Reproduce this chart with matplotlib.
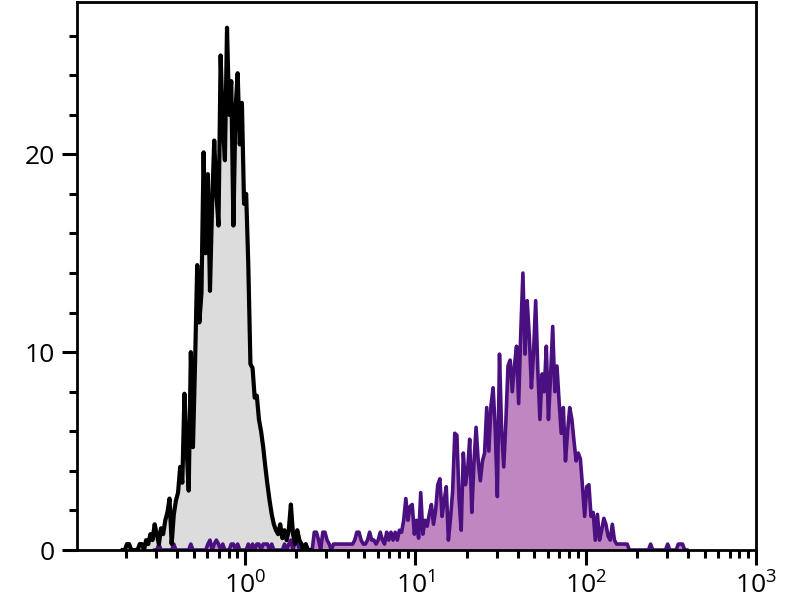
import numpy as np
import matplotlib
matplotlib.use("Agg")
import matplotlib.pyplot as plt
from matplotlib.ticker import LogLocator, LogFormatterMathtext, MultipleLocator, NullFormatter

plt.rcParams["font.family"] = ["Open Sans", "DejaVu Sans"]
plt.rcParams["mathtext.fontset"] = "custom"
plt.rcParams["mathtext.rm"] = "Open Sans"
plt.rcParams["mathtext.it"] = "Open Sans:italic"

# histogram channels: 80 per decade, first channel starts at 10^-1
CH_PER_DECADE = 80
LOG_MIN = -1.0

# unstained / isotype control (grey), values per channel from channel 22 on
black_start = 22
black_counts = [
    0, 0, 0.3, 0.3, 0, 0, 0, 0, 0.3, 0.3,
    0, 0.5, 0.3, 0.8, 0.5, 1.3, 0.8, 0.3, 1.1, 0.8,
    1.5, 1.9, 2.6, 0.3, 1.8, 2.5, 2.9, 4.2, 3.4, 7.9,
    5.2, 3.0, 10.0, 5.2, 9.5, 14.4, 11.5, 13.0, 20.1, 15.0,
    19.0, 13.1, 17.5, 20.7, 18.0, 16.4, 25.0, 21.5, 19.7, 26.4,
    22.0, 23.7, 16.4, 22.3, 24.1, 20.5, 22.6, 17.5, 18.0, 14.4,
    9.4, 9.2, 7.7, 7.8, 6.6, 6.0, 5.2, 4.2, 3.3, 2.5,
    1.8, 1.3, 1.0, 0.8, 1.3, 0.6, 1.0, 0.5, 1.0, 2.3,
    0.8, 0.3, 1.0, 0.5, 0.3, 0, 0.3, 0, 0,
]

# stained sample (purple), values per channel from channel 37 on
purple_start = 37
purple_counts = [
    0, 0, 0.3, 0, 0, 0, 0, 0, 0, 0.3,           # 37-46
    0, 0, 0, 0, 0, 0, 0, 0.3, 0, 0,             # 47-56
    0, 0, 0, 0, 0, 0.3, 0.5, 0, 0.3, 0.5,       # 57-66
    0.3, 0, 0.3, 0, 0, 0, 0.3, 0.3, 0, 0.3,     # 67-76
    0, 0, 0, 0, 0.3, 0, 0.3, 0, 0.3, 0.3,       # 77-86
    0, 0.3, 0.3, 0.3, 0, 0.3, 0, 0, 0, 0,       # 87-96
    0, 0.3, 0, 0.3, 0.5, 0, 0.5, 0.5, 0, 0.3,   # 97-106
    0, 0, 0, 0, 0, 0.9, 0.9, 0.5, 0, 0.9,       # 107-116
    0.9, 0.5, 0.3, 0, 0.3, 0.3, 0.3, 0.3, 0.3, 0.3,   # 117-126
    0.3, 0.3, 0.3, 0.3, 0.5, 0.9, 0.9, 0.5, 0.3, 0.3, # 127-136
    0.5, 0.9, 0.5, 0.5, 0.3, 0.5, 0.9, 0.5, 0.3, 0.9, # 137-146
    0.5, 0.9, 0.5, 0.9, 0.5, 1.0, 0.9, 1.5, 2.6, 1.5, # 147-156
    2.2, 2.3, 0.8, 1.5, 0.6, 2.9, 0.8, 1.5, 1.2, 1.8, # 157-166
    2.3, 1.3, 2.0, 3.3, 3.6, 1.7, 2.5, 3.2, 0.5, 1.6, # 167-176
    3.0, 5.9, 5.8, 2.6, 1.0, 4.9, 3.3, 4.0, 5.6, 1.9, # 177-186
    4.4, 6.2, 4.5, 3.5, 4.5, 4.9, 7.2, 5.0, 7.3, 8.2, # 187-196
    6.1, 2.7, 9.9, 6.0, 4.2, 6.5, 9.3, 9.6, 8.0, 9.3, # 197-206
    10.3, 7.4, 11.0, 14.0, 9.9, 12.6, 10.8, 8.2, 10.0, 12.6, # 207-216
    9.1, 6.6, 8.9, 8.0, 10.3, 6.6, 8.8, 11.3, 8.0, 9.3,      # 217-226
    7.5, 5.9, 7.2, 4.5, 6.0, 7.2, 6.6, 5.5, 4.5, 4.9,        # 227-236
    4.6, 3.2, 1.7, 3.2, 3.3, 1.7, 1.9, 0.5, 1.8, 0.5,        # 237-246
    1.0, 1.6, 1.3, 0.7, 0.5, 1.3, 0.5, 0.3, 0.3, 0.3,        # 247-256
    0.3, 0.3, 0.3, 0, 0, 0, 0, 0, 0, 0,                      # 257-266
    0, 0, 0, 0.3, 0, 0, 0, 0, 0, 0,                          # 267-276
    0, 0.3, 0, 0, 0, 0, 0.3, 0.3, 0.3, 0, 0,                 # 277-287
]


def centers(start, n):
    ch = np.arange(start, start + n) + 0.5
    return 10 ** (LOG_MIN + ch / CH_PER_DECADE)


xb = centers(black_start, len(black_counts))
yb = np.array(black_counts)
xp = centers(purple_start, len(purple_counts))
yp = np.array(purple_counts)

fig = plt.figure(figsize=(8, 6), dpi=100)
ax = fig.add_axes([77 / 800, 1 - 550 / 600, (756 - 77) / 800, (550 - 2) / 600])

ax.fill_between(xb, yb, 0, color="#dcdcdc", lw=0, zorder=1)
ax.fill_between(xp, yp, 0, color="#c086c2", lw=0, zorder=1.1)
ax.plot(xp, yp, color="#4a1080", lw=2.6, zorder=2)
ax.plot(xb, yb, color="black", lw=3.0, zorder=2.1)

ax.set_xscale("log")
ax.set_xlim(0.103, 1000)
ax.set_ylim(0, 27.7)

ax.xaxis.set_major_locator(LogLocator(base=10, numticks=10))
ax.xaxis.set_major_formatter(LogFormatterMathtext())
ax.xaxis.set_minor_locator(LogLocator(base=10, subs=np.arange(2, 10), numticks=20))
ax.xaxis.set_minor_formatter(NullFormatter())
ax.yaxis.set_major_locator(MultipleLocator(10))
ax.yaxis.set_minor_locator(MultipleLocator(2))

ax.tick_params(which="major", length=11, width=2.2, labelsize=19, pad=5)
ax.tick_params(which="minor", length=5.5, width=2.2)
for s in ax.spines.values():
    s.set_linewidth(2)

fig.savefig("out.png", dpi=100)
